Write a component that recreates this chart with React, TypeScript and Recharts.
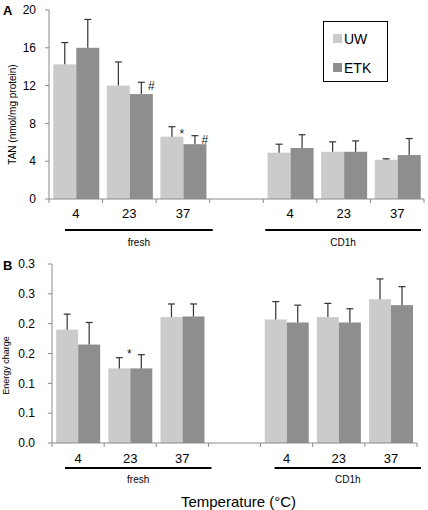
import React from "react";
import { BarChart, Bar, XAxis, YAxis, Legend } from "recharts";

// x categories (slot 3 is the empty gap between the two groups)
const temps = ["4", "23", "37", "", "4", "23", "37"];
const groups = ["fresh", "CD1h"];

// panel A: TAN (nmol/mg protein)
const tanUW = [14.25, 12.0, 6.6, null, 4.9, 5.0, 4.15];
const tanUWErr = [2.3, 2.5, 1.05, null, 0.9, 1.05, 0.1];
const tanETK = [16.0, 11.1, 5.8, null, 5.4, 5.0, 4.65];
const tanETKErr = [3.0, 1.25, 0.9, null, 1.4, 1.15, 1.75];
const tanUWMarks = ["", "", "*", "", "", "", ""];
const tanETKMarks = ["", "#", "#", "", "", "", ""];
const tanTicks = [0, 4, 8, 12, 16, 20];
const tanTickLabels = ["0", "4", "8", "12", "16", "20"];

// panel B: energy charge
const ecUW = [0.19, 0.125, 0.211, null, 0.207, 0.211, 0.241];
const ecUWErr = [0.026, 0.018, 0.022, null, 0.03, 0.023, 0.034];
const ecETK = [0.165, 0.125, 0.212, null, 0.202, 0.202, 0.231];
const ecETKErr = [0.037, 0.023, 0.021, null, 0.029, 0.023, 0.031];
const ecUWMarks = ["", "*", "", "", "", "", ""];
const ecETKMarks = ["", "", "", "", "", "", ""];
const ecTicks = [0, 0.05, 0.1, 0.15, 0.2, 0.25, 0.3];
const ecTickLabels = ["0.0", "0.1", "0.1", "0.2", "0.2", "0.3", "0.3"];

const UW_COLOR = "#cbcbcb";
const ETK_COLOR = "#8e8e8e";
const AXIS = "#8a8a8a";

function buildRows(uw, uwErr, etk, etkErr, uwMarks, etkMarks) {
  return temps.map((t, i) => ({
    key: "c" + i,
    uw: uw[i],
    uwErr: uwErr[i],
    etk: etk[i],
    etkErr: etkErr[i],
    uwMark: uwMarks[i],
    etkMark: etkMarks[i],
  }));
}

const tanRows = buildRows(tanUW, tanUWErr, tanETK, tanETKErr, tanUWMarks, tanETKMarks);
const ecRows = buildRows(ecUW, ecUWErr, ecETK, ecETKErr, ecUWMarks, ecETKMarks);

// bar + one-sided error bar + significance mark
function ErrBar(props) {
  const { x, y, width, height, payload, fill, vKey, markDy } = props;
  const v = payload[vKey];
  if (v == null || !height) return null;
  const err = payload[vKey + "Err"] || 0;
  const mark = payload[vKey + "Mark"];
  const k = height / v;
  const cx = x + width / 2;
  const top = y - err * k;
  return (
    <g>
      <rect x={x} y={y} width={width} height={height} fill={fill} />
      <line x1={cx} x2={cx} y1={y} y2={top} stroke="#333" strokeWidth={1.2} />
      <line x1={cx - 3.5} x2={cx + 3.5} y1={top} y2={top} stroke="#333" strokeWidth={1.2} />
      {mark ? (
        <text x={cx + 10} y={top + (markDy[mark] || 0)} textAnchor="middle" fontSize={12} fill="#222">
          {mark}
        </text>
      ) : null}
    </g>
  );
}

function legendContent() {
  const items = [
    { name: "UW", color: UW_COLOR },
    { name: "ETK", color: ETK_COLOR },
  ];
  return (
    <div style={{ padding: "2px 0 0 9px" }}>
      {items.map((it) => (
        <div key={it.name} style={{ display: "flex", alignItems: "center", height: 29, fontSize: 14 }}>
          <span style={{ width: 9, height: 9, background: it.color, marginRight: 2, display: "inline-block" }} />
          <span>{it.name}</span>
        </div>
      ))}
    </div>
  );
}

function Panel({
  rows,
  domain,
  ticks,
  tickLabels,
  letter,
  letterY,
  yLabel,
  yLabelX,
  yLabelShift,
  yLabelSize,
  top,
  height,
  margin,
  yWidth,
  yTickMargin,
  xHeight,
  tickDy,
  lineDy,
  groupDy,
  insets,
  markDy,
  legend,
  xTitle,
}) {
  const plotW = 428 - margin.left - margin.right - yWidth;
  const slot = plotW / temps.length;

  const xTick = (p) => {
    const { x, y, index } = p;
    const els = [
      <line key="l" x1={x - slot / 2} x2={x - slot / 2} y1={y} y2={y + 4} stroke={AXIS} />,
    ];
    if (index === temps.length - 1) {
      els.push(<line key="r" x1={x + slot / 2} x2={x + slot / 2} y1={y} y2={y + 4} stroke={AXIS} />);
    }
    els.push(
      <text key="t" x={x} y={y + tickDy} textAnchor="middle" fontSize={13} fill="#000">
        {temps[index]}
      </text>
    );
    const g = index === 1 ? 0 : index === 5 ? 1 : -1;
    if (g >= 0) {
      const x1 = x - 1.5 * slot + insets[g][0];
      const x2 = x + 1.5 * slot - insets[g][1];
      els.push(<line key="g" x1={x1} x2={x2} y1={y + lineDy} y2={y + lineDy} stroke="#000" strokeWidth={2} />);
      els.push(
        <text key="gt" x={(x1 + x2) / 2} y={y + groupDy} textAnchor="middle" fontSize={10} fill="#000">
          {groups[g]}
        </text>
      );
    }
    return <g>{els}</g>;
  };

  const yLabelRender = (p) => {
    const vb = p.viewBox;
    const cy = vb.y + vb.height / 2 + yLabelShift;
    return (
      <text x={yLabelX} y={cy} transform={`rotate(-90 ${yLabelX} ${cy})`} textAnchor="middle" dominantBaseline="central" fontSize={yLabelSize} fill="#000">
        {yLabel}
      </text>
    );
  };

  const xTitleRender = (p) => {
    if (!xTitle) return null;
    const vb = p.viewBox;
    return (
      <text x={vb.x + vb.width / 2 + 4} y={vb.y + 64} textAnchor="middle" fontSize={15} fill="#000">
        {xTitle}
      </text>
    );
  };

  return (
    <div style={{ position: "absolute", left: 0, top, width: 428, height }}>
      <div style={{ position: "absolute", left: 3, top: letterY, fontWeight: "bold", fontSize: 13, zIndex: 2 }}>{letter}</div>
      <BarChart width={428} height={height} data={rows} margin={margin} barCategoryGap="8%" barGap={0}>
        <XAxis
          dataKey="key"
          interval={0}
          tickLine={false}
          tickSize={0}
          tickMargin={0}
          height={xHeight}
          stroke={AXIS}
          tick={xTick}
          label={xTitleRender}
        />
        <YAxis
          domain={domain}
          ticks={ticks}
          width={yWidth}
          tickSize={4}
          tickMargin={yTickMargin}
          stroke={AXIS}
          tick={{ fontSize: 12, fill: "#000" }}
          tickFormatter={(v) => tickLabels[ticks.indexOf(v)]}
          label={yLabelRender}
        />
        {legend ? (
          <Legend
            layout="vertical"
            align="center"
            verticalAlign="middle"
            content={legendContent}
            wrapperStyle={{
              left: 323,
              top: 21,
              width: 65,
              height: 61,
              border: "1px solid #000",
              boxSizing: "border-box",
              background: "#fff",
            }}
          />
        ) : null}
        <Bar dataKey="uw" name="UW" fill={UW_COLOR} isAnimationActive={false} shape={(p) => <ErrBar {...p} vKey="uw" markDy={markDy} />} />
        <Bar dataKey="etk" name="ETK" fill={ETK_COLOR} isAnimationActive={false} shape={(p) => <ErrBar {...p} vKey="etk" markDy={markDy} />} />
      </BarChart>
    </div>
  );
}

export default function App() {
  return (
    <div
      style={{
        position: "absolute",
        left: 0,
        top: 0,
        width: 428,
        height: 510,
        background: "#fff",
        fontFamily: "'Liberation Sans', Arial, sans-serif",
      }}
    >
      <Panel
        rows={tanRows}
        domain={[0, 20]}
        ticks={tanTicks}
        tickLabels={tanTickLabels}
        letter="A"
        letterY={3}
        yLabel="TAN (nmol/mg protein)"
        yLabelX={12}
        yLabelShift={10}
        yLabelSize={10}
        top={0}
        height={252}
        margin={{ top: 10, right: 4, left: 0, bottom: 0 }}
        yWidth={49}
        yTickMargin={9}
        xHeight={53}
        tickDy={19}
        lineDy={31}
        groupDy={47}
        insets={[
          [16, -3],
          [2, 3],
        ]}
        markDy={{ "#": 8, "*": 11 }}
        legend
      />
      <Panel
        rows={ecRows}
        domain={[0, 0.3]}
        ticks={ecTicks}
        tickLabels={ecTickLabels}
        letter="B"
        letterY={3}
        yLabel="Energy charge"
        yLabelX={6}
        yLabelShift={12}
        yLabelSize={9}
        top={255}
        height={255}
        margin={{ top: 9, right: 11, left: 0, bottom: 0 }}
        yWidth={52}
        yTickMargin={13}
        xHeight={67}
        tickDy={20}
        lineDy={25}
        groupDy={40}
        insets={[
          [13, -3],
          [14, -4],
        ]}
        markDy={{ "*": 0 }}
        xTitle="Temperature (°C)"
      />
    </div>
  );
}
